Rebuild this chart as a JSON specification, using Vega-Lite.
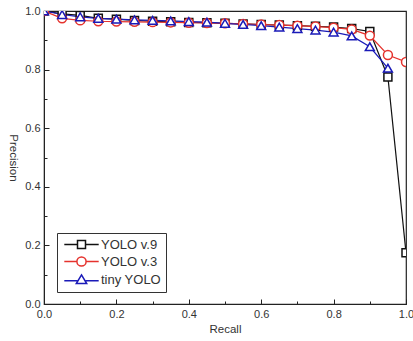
{
  "$schema": "https://vega.github.io/schema/vega-lite/v6.json",
  "width": 362,
  "height": 293,
  "autosize": "none",
  "padding": {"left": 44, "top": 11, "right": 7, "bottom": 37},
  "config": {
    "font": "Liberation Sans",
    "view": {"stroke": "#222", "strokeWidth": 1.2},
    "axis": {
      "grid": false,
      "domainColor": "#222",
      "tickColor": "#222",
      "labelColor": "#333",
      "titleColor": "#333",
      "labelFontSize": 11,
      "titleFontSize": 11.5,
      "titleFontWeight": "normal",
      "labelFont": "Liberation Sans",
      "titleFont": "Liberation Sans",
      "labelFlush": false
    },
    "legend": {
      "title": null,
      "orient": "none",
      "legendX": 13,
      "legendY": 222,
      "strokeColor": "#333",
      "fillColor": "white",
      "padding": 5,
      "symbolSize": 64,
      "symbolStrokeWidth": 1.5,
      "symbolFillColor": "white",
      "symbolOffset": 13,
      "labelOffset": 13,
      "labelFontSize": 13,
      "labelColor": "#333",
      "labelFont": "Liberation Sans",
      "rowPadding": 1
    }
  },
  "datasets": {
    "pr": [
      {"r": 0.0, "p": 1.0, "m": "YOLO v.9"},
      {"r": 0.05, "p": 0.99, "m": "YOLO v.9"},
      {"r": 0.1, "p": 0.985, "m": "YOLO v.9"},
      {"r": 0.15, "p": 0.975, "m": "YOLO v.9"},
      {"r": 0.2, "p": 0.972, "m": "YOLO v.9"},
      {"r": 0.25, "p": 0.968, "m": "YOLO v.9"},
      {"r": 0.3, "p": 0.965, "m": "YOLO v.9"},
      {"r": 0.35, "p": 0.963, "m": "YOLO v.9"},
      {"r": 0.4, "p": 0.961, "m": "YOLO v.9"},
      {"r": 0.45, "p": 0.96, "m": "YOLO v.9"},
      {"r": 0.5, "p": 0.958, "m": "YOLO v.9"},
      {"r": 0.55, "p": 0.956, "m": "YOLO v.9"},
      {"r": 0.6, "p": 0.954, "m": "YOLO v.9"},
      {"r": 0.65, "p": 0.952, "m": "YOLO v.9"},
      {"r": 0.7, "p": 0.95, "m": "YOLO v.9"},
      {"r": 0.75, "p": 0.948, "m": "YOLO v.9"},
      {"r": 0.8, "p": 0.945, "m": "YOLO v.9"},
      {"r": 0.85, "p": 0.94, "m": "YOLO v.9"},
      {"r": 0.9, "p": 0.93, "m": "YOLO v.9"},
      {"r": 0.95, "p": 0.775, "m": "YOLO v.9"},
      {"r": 1.0, "p": 0.175, "m": "YOLO v.9"},
      {"r": 0.0, "p": 1.0, "m": "YOLO v.3"},
      {"r": 0.05, "p": 0.975, "m": "YOLO v.3"},
      {"r": 0.1, "p": 0.968, "m": "YOLO v.3"},
      {"r": 0.15, "p": 0.965, "m": "YOLO v.3"},
      {"r": 0.2, "p": 0.964, "m": "YOLO v.3"},
      {"r": 0.25, "p": 0.963, "m": "YOLO v.3"},
      {"r": 0.3, "p": 0.962, "m": "YOLO v.3"},
      {"r": 0.35, "p": 0.961, "m": "YOLO v.3"},
      {"r": 0.4, "p": 0.96, "m": "YOLO v.3"},
      {"r": 0.45, "p": 0.959, "m": "YOLO v.3"},
      {"r": 0.5, "p": 0.958, "m": "YOLO v.3"},
      {"r": 0.55, "p": 0.956, "m": "YOLO v.3"},
      {"r": 0.6, "p": 0.954, "m": "YOLO v.3"},
      {"r": 0.65, "p": 0.952, "m": "YOLO v.3"},
      {"r": 0.7, "p": 0.95, "m": "YOLO v.3"},
      {"r": 0.75, "p": 0.947, "m": "YOLO v.3"},
      {"r": 0.8, "p": 0.943, "m": "YOLO v.3"},
      {"r": 0.85, "p": 0.937, "m": "YOLO v.3"},
      {"r": 0.9, "p": 0.916, "m": "YOLO v.3"},
      {"r": 0.95, "p": 0.85, "m": "YOLO v.3"},
      {"r": 1.0, "p": 0.826, "m": "YOLO v.3"},
      {"r": 0.0, "p": 1.0, "m": "tiny YOLO"},
      {"r": 0.05, "p": 0.988, "m": "tiny YOLO"},
      {"r": 0.1, "p": 0.98, "m": "tiny YOLO"},
      {"r": 0.15, "p": 0.975, "m": "tiny YOLO"},
      {"r": 0.2, "p": 0.972, "m": "tiny YOLO"},
      {"r": 0.25, "p": 0.97, "m": "tiny YOLO"},
      {"r": 0.3, "p": 0.968, "m": "tiny YOLO"},
      {"r": 0.35, "p": 0.966, "m": "tiny YOLO"},
      {"r": 0.4, "p": 0.964, "m": "tiny YOLO"},
      {"r": 0.45, "p": 0.962, "m": "tiny YOLO"},
      {"r": 0.5, "p": 0.958, "m": "tiny YOLO"},
      {"r": 0.55, "p": 0.954, "m": "tiny YOLO"},
      {"r": 0.6, "p": 0.95, "m": "tiny YOLO"},
      {"r": 0.65, "p": 0.945, "m": "tiny YOLO"},
      {"r": 0.7, "p": 0.94, "m": "tiny YOLO"},
      {"r": 0.75, "p": 0.935, "m": "tiny YOLO"},
      {"r": 0.8, "p": 0.928, "m": "tiny YOLO"},
      {"r": 0.85, "p": 0.915, "m": "tiny YOLO"},
      {"r": 0.9, "p": 0.878, "m": "tiny YOLO"},
      {"r": 0.95, "p": 0.805, "m": "tiny YOLO"}
    ]
  },
  "data": {"name": "pr"},
  "layer": [
    {
      "mark": {"type": "line", "strokeWidth": 1.2, "clip": true},
      "encoding": {
        "x": {
          "field": "r", "type": "quantitative",
          "scale": {"domain": [0, 1], "nice": false},
          "axis": {"orient": "bottom", "values": [0, 0.2, 0.4, 0.6, 0.8, 1.0], "format": ".1f", "tickSize": -5, "labelPadding": 9, "title": "Recall", "titlePadding": 4}
        },
        "y": {
          "field": "p", "type": "quantitative",
          "scale": {"domain": [0, 1], "nice": false, "zero": true},
          "axis": {"orient": "left", "values": [0, 0.2, 0.4, 0.6, 0.8, 1.0], "format": ".1f", "tickSize": -5, "labelPadding": 9, "title": "Precision", "titleAngle": 90, "titlePadding": 17}
        },
        "color": {
          "field": "m", "type": "nominal",
          "scale": {"domain": ["YOLO v.9", "YOLO v.3", "tiny YOLO"], "range": ["#111111", "#e5322d", "#1a1ab8"]},
          "legend": {
            "symbolType": {"expr": "datum.value === 'YOLO v.9' ? 'M-4.3,0H-1M-1,-1H1V1H-1ZM1,0H4.3' : (datum.value === 'YOLO v.3' ? 'M-4.3,0H-1.15M-1.15,0A1.15,1.15 0 1,0 1.15,0A1.15,1.15 0 1,0 -1.15,0ZM1.15,0H4.3' : 'M-4.3,0.3H-1.05M0,-1.15L1.3,1L-1.3,1ZM1.05,0.3H4.3')"}
          }
        }
      }
    },
    {
      "transform": [{"filter": "datum.m === 'YOLO v.9'"}],
      "mark": {"type": "point", "shape": "square", "filled": false, "fill": "white", "size": 64, "strokeWidth": 1.5, "clip": true, "opacity": 1},
      "encoding": {
        "x": {"field": "r", "type": "quantitative", "axis": null},
        "y": {"field": "p", "type": "quantitative", "axis": null},
        "color": {"field": "m", "type": "nominal"}
      }
    },
    {
      "transform": [{"filter": "datum.m === 'YOLO v.3'"}],
      "mark": {"type": "point", "shape": "circle", "filled": false, "fill": "white", "size": 80, "strokeWidth": 1.5, "clip": true, "opacity": 1},
      "encoding": {
        "x": {"field": "r", "type": "quantitative", "axis": null},
        "y": {"field": "p", "type": "quantitative", "axis": null},
        "color": {"field": "m", "type": "nominal"}
      }
    },
    {
      "transform": [{"filter": "datum.m === 'tiny YOLO'"}],
      "mark": {"type": "point", "shape": "triangle-up", "filled": false, "fill": "white", "size": 80, "strokeWidth": 1.5, "clip": true, "opacity": 1},
      "encoding": {
        "x": {"field": "r", "type": "quantitative", "axis": null},
        "y": {"field": "p", "type": "quantitative", "axis": null},
        "color": {"field": "m", "type": "nominal"}
      }
    },
    {
      "mark": {"type": "point", "opacity": 0},
      "encoding": {
        "x": {
          "field": "r", "type": "quantitative",
          "axis": {"orient": "bottom", "values": [0.1, 0.3, 0.5, 0.7, 0.9], "labels": false, "domain": false, "tickSize": -3, "title": null}
        },
        "y": {
          "field": "p", "type": "quantitative",
          "axis": {"orient": "left", "values": [0.1, 0.3, 0.5, 0.7, 0.9], "labels": false, "domain": false, "tickSize": -3, "title": null}
        }
      }
    }
  ],
  "resolve": {"axis": {"x": "independent", "y": "independent"}}
}
